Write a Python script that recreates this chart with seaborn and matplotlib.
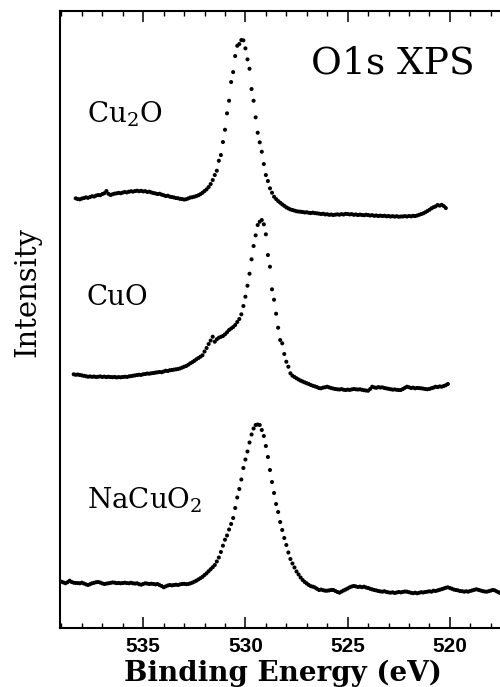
import numpy as np
import pandas as pd
import matplotlib
matplotlib.use("Agg")
import matplotlib.pyplot as plt
from matplotlib.ticker import MultipleLocator
import seaborn as sns

# O 1s core-level scans, 0.1 eV per point, intensities in arbitrary units
STEP = 0.1

CU2O_START = 538.3
CU2O = [
    18.7, 18.0, 17.7, 18.5, 19.0, 19.7, 19.2, 20.0, 20.8, 20.5,
    21.5, 22.0, 21.8, 23.0, 23.8, 26.0, 23.2, 22.0, 22.8, 23.4,
    23.7, 24.2, 23.8, 24.5, 25.0, 24.6, 25.3, 25.8, 25.4, 26.0,
    26.3, 25.8, 26.2, 25.6, 25.9, 25.0, 25.4, 24.6, 24.0, 23.6,
    23.0, 23.3, 22.4, 21.8, 21.0, 21.3, 20.4, 20.0, 19.6, 19.0,
    18.8, 18.2, 18.0, 17.5, 17.8, 18.6, 19.5, 19.8, 20.3, 21.0,
    21.8, 22.9, 24.3, 26.0, 27.7, 30.0, 33.0, 37.0, 42.0, 46.3,
    56.3, 62.0, 75.0, 87.3, 103.7, 116.3, 135.0, 145.0, 161.0, 171.3,
    173.0, 177.0, 176.7, 168.7, 157.7, 148.3, 128.0, 116.3, 99.7, 84.3,
    74.7, 65.3, 53.0, 42.0, 36.0, 28.7, 24.3, 20.3, 18.0, 16.0,
    14.3, 12.7, 11.2, 9.7, 8.6, 7.6, 7.0, 6.4, 5.8, 5.5,
    5.3, 5.0, 4.6, 4.8, 4.2, 4.0, 4.4, 3.9, 3.7, 3.4,
    3.0, 3.3, 2.6, 2.8, 2.2, 2.5, 2.0, 2.4, 2.7, 2.3,
    2.9, 2.5, 3.2, 3.0, 2.6, 2.9, 2.2, 2.6, 2.0, 2.4,
    2.1, 1.8, 2.3, 2.0, 1.5, 1.9, 1.2, 1.6, 1.0, 1.4,
    1.0, 1.3, 0.7, 1.1, 0.5, 0.9, 0.4, 0.8, 0.3, 0.5,
    0.6, 0.9, 0.5, 1.0, 0.7, 1.2, 1.0, 1.5, 2.2, 3.0,
    3.7, 4.8, 6.0, 7.2, 8.7, 9.8, 10.6, 12.0, 11.4, 12.2,
    11.0, 9.0,
]

CUO_START = 538.4
CUO = [
    16.7, 16.2, 16.5, 16.0, 15.6, 15.2, 14.8, 14.3, 14.6, 14.2,
    14.5, 14.0, 14.3, 14.6, 14.1, 14.4, 13.9, 14.3, 14.0, 13.8,
    14.1, 13.6, 13.9, 13.7, 14.0, 14.3, 14.1, 14.6, 14.9, 15.3,
    15.6, 16.0, 16.3, 16.1, 16.8, 17.0, 17.5, 17.3, 17.8, 18.0,
    18.4, 18.7, 19.0, 18.8, 19.5, 20.3, 20.0, 20.8, 21.0, 21.4,
    21.7, 22.0, 22.6, 23.4, 24.3, 25.0, 26.2, 27.7, 28.8, 30.2,
    31.7, 33.0, 34.3, 35.8, 39.5, 43.0, 47.0, 50.5, 54.3, 49.3,
    51.7, 53.3, 54.2, 55.0, 56.7, 58.7, 61.0, 62.5, 64.0, 66.0,
    69.0, 72.0, 76.7, 85.0, 94.3, 105.3, 117.3, 131.7, 145.0, 155.7,
    166.0, 169.3, 171.0, 166.7, 156.7, 136.0, 124.3, 101.7, 91.3, 77.3,
    63.3, 51.0, 47.7, 37.0, 29.3, 24.3, 17.7, 15.3, 14.0, 12.7,
    11.5, 10.4, 9.5, 8.6, 7.8, 7.0, 6.0, 5.2, 4.6, 3.9,
    2.9, 2.7, 3.4, 3.8, 4.3, 3.6, 2.9, 2.4, 2.0, 1.7,
    1.5, 1.9, 1.3, 1.0, 1.4, 1.1, 1.6, 2.0, 1.7, 1.5,
    1.7, 1.2, 0.8, 0.5, 0.3, 2.0, 4.3, 3.6, 3.2, 3.9,
    3.5, 3.7, 3.0, 2.6, 2.2, 1.8, 1.4, 1.6, 1.2, 1.0,
    1.0, 2.0, 3.2, 4.3, 3.8, 3.0, 3.4, 2.7, 3.1, 2.9,
    2.7, 2.4, 2.0, 1.7, 2.1, 2.8, 3.4, 4.3, 3.9, 4.6,
    4.3, 5.0, 5.8, 7.0,
]

NACUO2_START = 539.0
NACUO2 = [
    12.3, 11.5, 10.7, 11.8, 13.3, 12.0, 11.3, 11.0, 10.9, 10.7,
    11.3, 10.5, 9.6, 9.0, 9.8, 10.7, 11.2, 11.8, 12.0, 11.4,
    10.6, 10.0, 10.4, 10.7, 11.1, 11.6, 11.3, 10.8, 11.0, 10.7,
    11.0, 11.3, 10.9, 10.7, 11.2, 10.7, 10.4, 10.7, 9.8, 9.3,
    10.0, 10.7, 10.4, 10.0, 10.3, 10.0, 9.6, 10.0, 8.9, 8.0,
    6.7, 7.6, 8.5, 9.0, 8.6, 9.0, 9.3, 9.0, 9.6, 10.0,
    10.2, 9.8, 10.0, 10.6, 11.3, 12.3, 13.3, 14.6, 15.8, 17.2,
    19.0, 20.7, 22.8, 24.8, 26.8, 29.0, 32.5, 36.5, 42.0, 48.3,
    54.3, 58.5, 64.5, 70.0, 76.0, 86.0, 96.5, 105.0, 114.5, 126.0,
    134.5, 142.5, 151.5, 159.5, 165.5, 169.0, 169.5, 169.0, 164.0, 158.0,
    148.0, 137.0, 124.0, 112.0, 101.0, 90.0, 82.0, 72.0, 64.0, 56.0,
    49.0, 41.5, 35.0, 30.5, 26.5, 22.5, 19.5, 16.5, 14.0, 12.0,
    10.5, 9.0, 7.8, 7.3, 6.5, 5.2, 4.0, 4.4, 3.8, 3.3,
    3.3, 3.6, 4.0, 4.0, 3.0, 2.0, 1.3, 2.4, 3.5, 4.5,
    5.5, 6.7, 7.5, 8.0, 7.6, 7.0, 7.4, 6.8, 7.3, 6.5,
    6.0, 5.2, 4.6, 4.0, 3.6, 3.0, 2.6, 2.3, 2.8, 2.0,
    1.6, 1.3, 1.7, 1.0, 1.5, 2.0, 1.6, 2.1, 2.5, 2.3,
    1.8, 1.2, 0.8, 1.3, 0.7, 1.2, 1.8, 1.5, 2.0, 2.3,
    2.7, 2.3, 3.3, 3.0, 3.6, 4.2, 4.8, 5.5, 6.2, 6.7,
    6.0, 5.2, 4.4, 4.0, 3.6, 3.0, 2.8, 2.3, 2.7, 2.3,
    3.0, 3.6, 4.2, 4.7, 4.1, 3.5, 2.9, 2.5, 2.3, 2.8,
    3.4, 4.0, 3.6, 2.5, 1.5, 0.7,
]

SAMPLES = [r"Cu$_\mathregular{2}$O", "CuO", r"NaCuO$_\mathregular{2}$"]
STARTS = [CU2O_START, CUO_START, NACUO2_START]
SPECTRA = [CU2O, CUO, NACUO2]
XTICKS = [535, 530, 525, 520]
TITLE = "O1s XPS"

# vertical stacking of the three scans
OFFSETS = [411, 237, 34]
LABEL_Y = [0.820, 0.5235, 0.193]

frames = []
for name, start, values, offset in zip(SAMPLES, STARTS, SPECTRA, OFFSETS):
    vals = np.asarray(values, dtype=float)
    energy = start - STEP * np.arange(len(vals))
    frames.append(pd.DataFrame({"energy": energy,
                                "intensity": vals + offset,
                                "sample": name}))
df = pd.concat(frames, ignore_index=True)

sns.set_theme(style="ticks")
plt.rcParams["font.family"] = ["DejaVu Serif"]
plt.rcParams["mathtext.default"] = "regular"

fig = plt.figure(figsize=(5, 6.87), dpi=100)
ax = fig.add_axes([0.12, 0.0859, 0.884, 0.898])

sns.scatterplot(data=df, x="energy", y="intensity", hue="sample",
                palette=["black"] * 3, s=8.5, linewidth=0, legend=False,
                ax=ax, zorder=3)

ax.set_xlim(539.07, 517.45)
ax.set_ylim(0, 617)
ax.set_yticks([])
ax.set_xticks(XTICKS)
ax.set_xticklabels([str(t) for t in XTICKS], family="Liberation Sans",
                   fontweight="bold", fontsize=15)
ax.xaxis.set_minor_locator(MultipleLocator(1))
ax.tick_params(axis="x", which="both", direction="in", top=True, bottom=True,
               colors="black", pad=6.5)
ax.tick_params(axis="x", which="major", length=8, width=1.1)
ax.tick_params(axis="x", which="minor", length=3.5, width=1.0)
ax.set_xlabel("")
ax.set_ylabel("")
for side in ("left", "top", "bottom"):
    ax.spines[side].set_linewidth(1.5)
    ax.spines[side].set_color("black")
ax.spines["right"].set_visible(False)

for name, y in zip(SAMPLES, LABEL_Y):
    ax.text(0.061, y, name, transform=ax.transAxes, fontsize=20,
            ha="left", va="baseline", color="black")

ax.text(0.753, 0.8995, TITLE, transform=ax.transAxes, fontsize=27,
        ha="center", va="baseline", color="black")

fig.text(0.566, 0.0087, "Binding Energy (eV)", fontsize=20,
         fontweight="bold", ha="center", va="baseline", color="black")
fig.text(0.054, 0.575, "Intensity", rotation=90, fontsize=21,
         ha="center", va="center", color="black")

fig.savefig("out.png", dpi=100, facecolor="white")
